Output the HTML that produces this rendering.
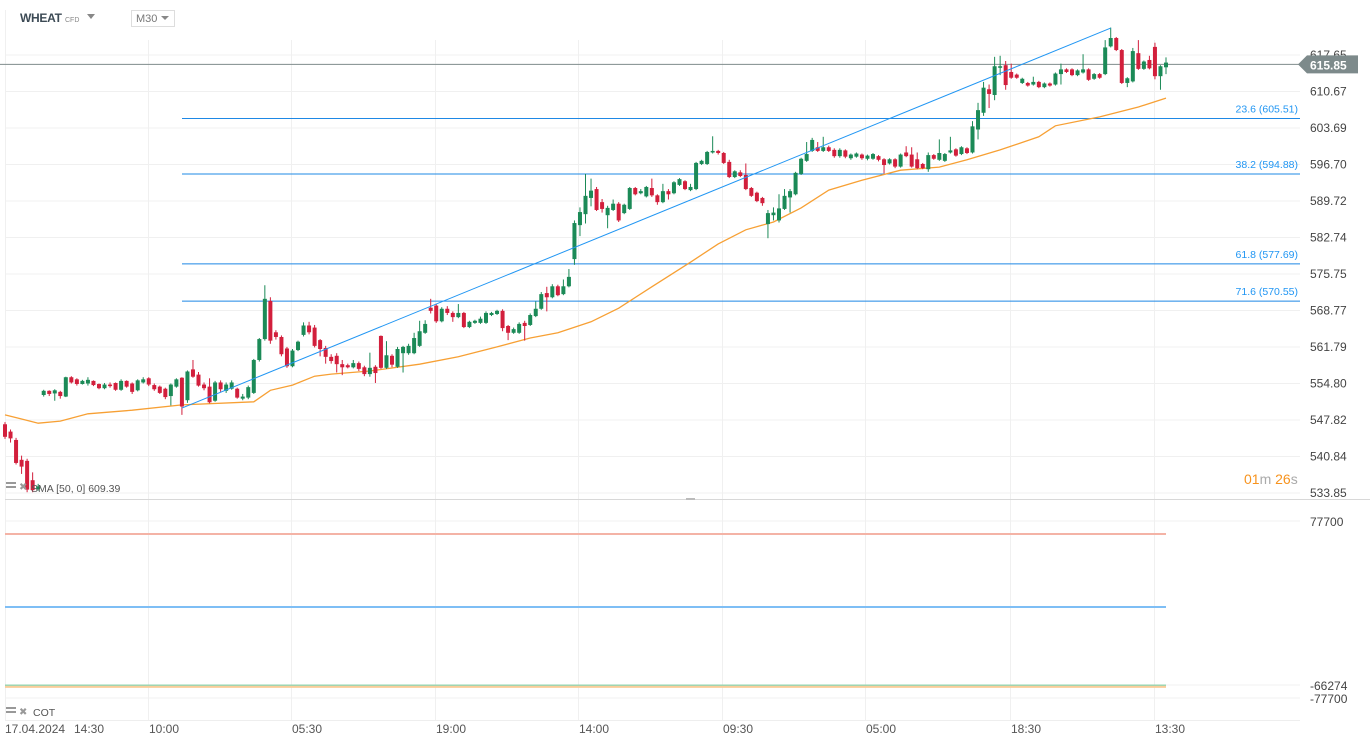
<!DOCTYPE html>
<html><head><meta charset="utf-8"><style>
html,body{margin:0;padding:0;background:#fff;}
svg{display:block;font-family:"Liberation Sans",sans-serif;}
</style></head><body>
<svg id="chart" width="1370" height="746" viewBox="0 0 1370 746">
<g id="grid"></g>
<g>
  <text x="20" y="22" font-size="12" font-weight="bold" fill="#3c4a55" textLength="42">WHEAT</text>
  <text x="65" y="22" font-size="7" fill="#888">CFD</text>
  <path d="M87 14 L95 14 L91 19 Z" fill="#888"/>
  <rect x="131.5" y="10.5" width="43" height="16" fill="#fff" stroke="#ddd"/>
  <text x="136" y="22" font-size="11" fill="#777">M30</text>
  <path d="M161 16 L169 16 L165 20 Z" fill="#888"/>
</g>
<g id="fib"></g>
<g id="sma"></g>
<g id="candles"></g>
<g id="trend"></g>
<g id="yaxis"></g>
<g id="cot"></g>
<g id="xaxis"></g>
<g>
  <text x="1244" y="484" font-size="14"><tspan fill="#f7931e">01</tspan><tspan fill="#aaa">m </tspan><tspan fill="#f7931e">26</tspan><tspan fill="#aaa">s</tspan></text>
</g>
<g>
  <rect x="6" y="482" width="10" height="2" fill="#999"/><rect x="6" y="486" width="10" height="2" fill="#999"/>
  <text x="19" y="490" font-size="10" fill="#999">✖</text>
  <text x="31" y="492" font-size="10.5" fill="#555">SMA [50, 0] 609.39</text>
</g>
<g>
  <rect x="6" y="707" width="10" height="2" fill="#999"/><rect x="6" y="711" width="10" height="2" fill="#999"/>
  <text x="19" y="715" font-size="10" fill="#999">✖</text>
  <text x="33" y="716" font-size="10.5" fill="#555">COT</text>
</g>
</svg>
<script>
const ohlc = [
[547.0,547.4,544.2,544.6],[545.6,546.0,543.5,544.3],[544.0,544.4,539.3,539.6],[540.2,541.0,537.5,538.9],[540.0,540.4,534.0,534.5],[536.3,537.8,534.0,534.4],[534.6,535.6,534.3,535.1],
[552.6,553.6,552.3,553.4],[553.4,553.5,552.4,552.8],[552.9,553.7,551.5,553.5],[553.2,553.4,551.9,552.4],[552.3,556.1,552.2,556.0],[556.0,556.2,554.8,555.0],[555.6,555.8,554.4,554.7],[554.7,555.5,554.6,555.3],[554.8,556.0,554.4,555.5],[555.3,555.4,554.3,554.5],[554.7,554.8,553.7,553.9],[553.9,554.9,553.7,554.6],[554.6,555.0,554.0,554.3],
[554.9,555.0,553.4,553.6],[553.6,555.6,553.4,555.3],[555.3,555.4,554.0,554.2],[554.8,555.0,552.8,553.2],[553.5,555.6,553.3,555.4],[555.0,556.0,554.8,555.6],[555.8,556.0,554.3,554.6],[554.5,554.8,553.4,553.7],[554.2,554.4,552.8,553.0],[553.8,554.0,551.8,552.2],[552.4,554.8,550.6,554.6],[554.2,555.8,554.0,555.6],
[555.9,556.0,548.8,550.4],[551.6,557.3,551.1,557.1],[557.5,559.3,555.9,556.1],[556.5,557.0,554.2,554.4],[554.6,555.0,553.5,553.9],[554.2,555.8,551.0,551.2],[551.5,555.3,551.3,555.0],[555.0,555.4,553.2,553.7],[553.4,555.0,553.0,554.6],[553.8,555.4,553.6,555.0],[553.8,554.0,551.9,552.1],[551.9,552.8,551.6,552.3],[552.1,554.4,551.8,554.1],
[553.0,559.5,552.8,559.3],[559.3,563.5,559.0,563.3],[563.3,573.6,563.0,571.0],[570.6,571.3,562.4,563.0],[564.6,565.0,563.2,563.7],[563.7,564.0,560.0,560.4],[561.5,561.8,557.8,558.1],[558.1,561.4,557.9,561.1],[561.2,563.0,561.0,562.8],
[564.1,566.5,563.8,565.9],[565.9,566.6,564.2,564.6],[565.5,566.0,561.7,562.0],[563.1,563.3,560.0,561.4],[561.6,562.0,558.6,559.9],[559.9,560.4,558.6,559.1],[560.1,560.6,556.9,558.5],[558.5,559.3,556.4,557.9],[558.3,558.6,557.7,557.9],[557.9,559.3,557.7,558.7],[558.7,559.0,557.2,557.6],[557.9,558.2,556.2,556.6],[556.6,560.7,556.1,557.8],[558.0,558.3,554.9,556.8],[563.9,564.0,557.6,557.8],[557.8,562.9,557.6,560.2],[560.1,560.4,557.9,558.4],[558.0,561.8,557.8,561.4],[560.6,562.0,556.9,561.8],[560.6,562.4,560.3,562.0],[560.6,564.5,560.4,563.5],[562.0,566.8,561.8,564.8],[564.5,566.9,564.3,566.2],
[569.3,571.0,568.2,568.7],[569.7,570.0,566.4,566.7],[566.7,569.4,566.5,569.1],[569.1,569.6,567.9,568.3],[568.3,568.6,566.6,567.5],[567.5,570.0,567.3,568.3],[568.3,568.5,565.4,565.6],[565.6,566.8,565.4,566.6],[566.4,567.0,566.2,566.8],[566.4,567.6,566.2,567.2],[566.4,568.6,566.2,568.3],[567.9,568.5,567.7,568.3],[568.1,568.9,567.9,568.7],[568.7,569.0,564.8,565.4],[565.8,566.0,563.1,564.5],[564.5,565.5,564.3,565.2],[564.5,566.5,564.3,566.2],[566.4,566.8,563.0,565.8],[566.0,568.2,565.8,567.9],[567.7,570.5,567.5,569.1],[569.1,572.3,568.9,571.9],[572.1,573.3,568.6,571.3],[571.3,573.8,571.1,573.4],[573.4,573.7,571.5,571.7],[571.9,574.7,571.7,573.4],[573.4,576.7,573.2,575.2],
[578.6,586.0,577.5,585.5],[585.1,588.5,583.0,587.6],[587.2,594.9,585.4,590.7],[590.3,594.0,588.7,591.7],[592.0,592.4,587.8,588.0],[589.5,590.1,587.5,588.2],[587.0,588.8,584.5,588.4],[588.0,590.0,587.8,589.2],[589.2,589.5,585.7,586.0],[587.4,589.2,587.2,589.0],[588.2,592.4,588.0,592.2],[592.2,592.4,590.8,591.0],[591.2,592.0,591.0,591.6],[590.6,592.6,590.4,592.4],[592.2,594.0,590.5,590.8],[590.8,591.0,589.0,589.5],[589.5,593.0,589.3,591.6],[591.6,592.0,590.0,591.0],[591.2,593.5,591.0,593.3],[592.8,594.1,592.6,593.9],[593.5,593.7,591.8,592.0],[591.8,593.0,591.6,592.4],[592.0,597.2,591.8,597.0],[596.8,597.6,596.6,597.4],[596.8,599.3,596.6,599.1],[599.0,602.1,598.8,599.3],[599.3,599.5,598.6,598.9],[598.9,599.1,596.8,597.0],[597.2,597.6,594.1,594.3],[594.3,595.6,594.1,595.4],[595.2,595.6,594.3,594.5],[594.7,596.9,591.8,592.0],[592.2,592.4,590.5,590.7],[591.3,591.5,589.5,589.7],[590.3,590.5,588.8,589.3],
[585.3,588.0,582.6,587.4],[587.0,588.5,586.0,587.5],[586.0,591.0,585.6,588.3],[588.2,592.0,588.0,590.7],[590.4,592.0,587.5,591.6],[591.0,595.3,590.8,595.1],[594.9,598.0,594.7,597.8],[597.4,601.0,597.2,598.7],[599.3,601.8,599.1,601.4],[600.0,601.0,599.1,599.3],[599.3,602.0,599.1,600.0],[600.0,600.3,599.1,599.3],[599.5,599.8,598.0,598.3],[598.3,599.8,598.0,599.5],[599.4,599.6,597.9,598.2],[597.9,598.8,597.6,598.6],[598.2,599.0,598.0,598.8],[598.6,598.8,597.6,597.9],
[597.8,598.6,597.5,598.4],[597.8,598.9,597.6,598.7],[598.3,598.5,597.3,597.6],[597.7,597.9,595.0,596.6],[596.9,597.9,596.7,597.7],[597.7,597.9,596.0,596.3],[596.3,598.8,596.1,598.6],[599.0,600.2,598.1,598.3],[598.6,600.0,596.1,596.3],[597.7,599.0,595.8,596.0],[596.8,597.0,595.8,596.0],[595.8,599.0,595.3,598.5],[598.5,598.7,597.6,597.8],[597.6,601.5,597.4,598.9],[597.4,598.9,597.2,598.7],[599.0,602.0,598.8,599.4],[599.6,599.8,598.2,598.4],[598.7,600.2,598.5,600.0],[599.8,600.0,598.7,598.9],[599.0,605.0,598.8,604.0],[603.4,608.5,601.5,607.1],[606.6,612.5,606.0,611.4],[611.1,612.0,607.5,610.2],[610.0,617.3,609.0,615.5],[615.2,617.5,613.8,615.5],[615.7,616.5,611.0,611.9],[614.4,616.0,613.1,613.3],[613.9,614.1,613.1,613.3],[612.3,613.3,612.1,613.1],[612.3,612.5,611.6,611.8],[612.0,613.5,611.8,612.5],[612.5,612.7,611.3,611.5],[611.5,612.4,611.3,612.2],[612.2,612.4,611.6,611.8],[612.0,614.3,611.8,614.1],[614.0,616.0,612.0,614.9],[614.9,615.1,614.2,614.4],[614.9,615.1,613.6,613.8],[613.8,614.9,613.6,614.7],[614.3,617.8,614.1,614.9],[614.9,615.1,612.7,612.9],[613.1,614.2,612.9,614.0],[614.0,614.2,613.1,613.3],[614.0,620.5,613.8,619.1],[619.3,622.9,619.1,620.9],[620.9,621.1,618.4,618.6],[618.6,618.8,612.1,612.3],[612.3,613.4,611.5,613.2],[612.6,619.0,612.4,618.4],[618.0,620.5,614.8,615.0],[615.0,616.6,614.8,616.4],[616.7,617.5,614.9,615.1],[619.2,620.0,613.0,613.6],[613.6,615.7,611.0,615.5],[615.3,617.2,614.0,616.2]
];
const smaIdx = [0,3,6,10,15,23,32,45,48,52,56,59,66,75,82,89,95,100,106,111,117,124,129,134,139,144,149,155,162,169,174,180,187,190,198,205,210];
const smaVal = [548.8,548.0,547.2,547.6,549.0,549.7,550.7,551.3,553.5,554.5,556.2,556.6,557.2,558.5,559.9,561.8,563.5,564.5,566.6,569.2,573.3,578.0,581.5,584.2,585.7,588.4,591.8,593.7,595.6,596.2,597.6,599.5,602.0,604.1,605.8,607.7,609.4];
const fibRatios = ["23.6","38.2","61.8","71.6"];
const fibPrices = [605.51,594.88,577.69,570.55];
const priceTicks = [617.65,610.67,603.69,596.70,589.72,582.74,575.75,568.77,561.79,554.80,547.82,540.84,533.85];
const lastPrice = 615.85;
const trendIdx = [32,200];
const trendPrice = [550.1,622.8];
const timeLabels = ["17.04.2024","14:30","10:00","05:30","19:00","14:00","09:30","05:00","18:30","13:30"];
const timeIdx = [0,12.5,26.0,51.9,77.9,103.8,129.8,155.7,181.9,208.1];
const cotTicks = [77700,-66274,-77700];
const cotNames = ["cot-commercial-long","cot-net","cot-noncommercial","cot-nonreportable"];
const cotValues = [66274,2200,-66700,-67900];
const cotColors = ["#f4b3a6","#7ebef5","#95d5b2","#f9cd9a"];

const NS="http://www.w3.org/2000/svg";
function mk(tag, attrs, parent){const e=document.createElementNS(NS,tag);for(const k in attrs)e.setAttribute(k,attrs[k]);parent.appendChild(e);return e;}
const pMin=533.85,pMax=617.65,yTop=55,yBot=493;
function yP(p){return yBot-(p-pMin)*(yBot-yTop)/(pMax-pMin);}
const x0=5,x1=1166,n=ohlc.length,step=(x1-x0)/(n-1);
function xI(i){return x0+i*step;}
const cMax=77700,cMin=-77700,cTop=521,cBot=698;
function yC(v){return cTop+(cMax-v)*(cBot-cTop)/(cMax-cMin);}

const grid=document.getElementById('grid');
priceTicks.forEach(t=>{const l=mk('line',{x1:5,x2:1300,y1:yP(t),y2:yP(t),stroke:'#f0f0f0'},grid);

});
timeIdx.forEach((ti,k)=>{if(k<2)return;
const gx=Math.round(xI(ti))-0.5;const l=mk('line',{x1:gx,x2:gx,y1:40,y2:720,stroke:'#f0f0f0'},grid);

});
[5.5].forEach(gx=>{const l=mk('line',{x1:gx,x2:gx,y1:10,y2:720,stroke:'#f0f0f0'},grid);

});
cotTicks.forEach(t=>{const l=mk('line',{x1:5,x2:1300,y1:yC(t),y2:yC(t),stroke:'#f0f0f0'},grid);

});
const bl=mk('line',{x1:5,x2:1300,y1:720.5,y2:720.5,stroke:'#eee'},grid);


const sep=mk('line',{x1:5,x2:1370,y1:499.5,y2:499.5,stroke:'#d8d8d8'},grid);


const sepH=mk('rect',{x:686,y:498,width:9,height:2,fill:'#bbb'},grid);



const lp=mk('line',{x1:0,x2:1300,y1:yP(lastPrice),y2:yP(lastPrice),stroke:'#7f8b8c','stroke-width':1},grid);



const fib=document.getElementById('fib');
fibPrices.forEach((p,k)=>{const y=yP(p);
const l=mk('line',{x1:182,x2:1300,y1:y,y2:y,stroke:'#1e88e5','stroke-width':1},fib);


const t=mk('text',{x:1298,y:y-6,'font-size':10.5,fill:'#2196f3','text-anchor':'end'},fib);
t.textContent=fibRatios[k]+" ("+p.toFixed(2)+")";

});

const smaG=document.getElementById('sma');
const sp=mk('polyline',{points:smaIdx.map((ix,k)=>xI(ix).toFixed(1)+","+yP(smaVal[k]).toFixed(1)).join(" "),fill:'none',stroke:'#f7a034','stroke-width':1.3},smaG);



const cg=document.getElementById('candles');
ohlc.forEach((c,i)=>{const [o,h,l,cl]=c;const up=cl>=o;const col=up?'#1b8a57':'#d21f3c';const x=xI(i);
const g=mk('g',{},cg);


mk('line',{x1:x,x2:x,y1:yP(h),y2:yP(l),stroke:col,'stroke-width':1},g);
const yt=yP(Math.max(o,cl)),yb=yP(Math.min(o,cl));
mk('rect',{x:x-2,y:yt,width:4,height:Math.max(1,yb-yt),fill:col},g);});

const tg=document.getElementById('trend');
const tl=mk('line',{x1:xI(trendIdx[0]),y1:yP(trendPrice[0]),x2:xI(trendIdx[1]),y2:yP(trendPrice[1]),stroke:'#2196f3','stroke-width':1},tg);



const ya=document.getElementById('yaxis');
priceTicks.forEach(t=>{const e=mk('text',{x:1310,y:yP(t)+4,'font-size':12,fill:'#444'},ya);e.textContent=t.toFixed(2);

});
const ly=yP(lastPrice);
const tag=mk('path',{d:`M1298 ${ly} L1307 ${ly-9} L1358 ${ly-9} L1358 ${ly+9} L1307 ${ly+9} Z`,fill:'#7d8a8b'},ya);


const tt=mk('text',{x:1310,y:ly+5,'font-size':12,'font-weight':'bold',fill:'#fff'},ya);tt.textContent=lastPrice.toFixed(2);



const cot=document.getElementById('cot');
cotValues.forEach((v,k)=>{const y=yC(v);const l=mk('line',{x1:5,x2:1166,y1:y,y2:y,stroke:cotColors[k],'stroke-width':2},cot);

});
cotTicks.forEach(t=>{const e=mk('text',{x:1310,y:yC(t)+5,'font-size':12,fill:'#444'},cot);e.textContent=String(t);

});

const xa=document.getElementById('xaxis');
timeLabels.forEach((lab,k)=>{const e=mk('text',{x:k<1?5:Math.round(xI(timeIdx[k])),y:733,'font-size':12,fill:'#555'},xa);e.textContent=lab;

});
</script>
</body></html>
